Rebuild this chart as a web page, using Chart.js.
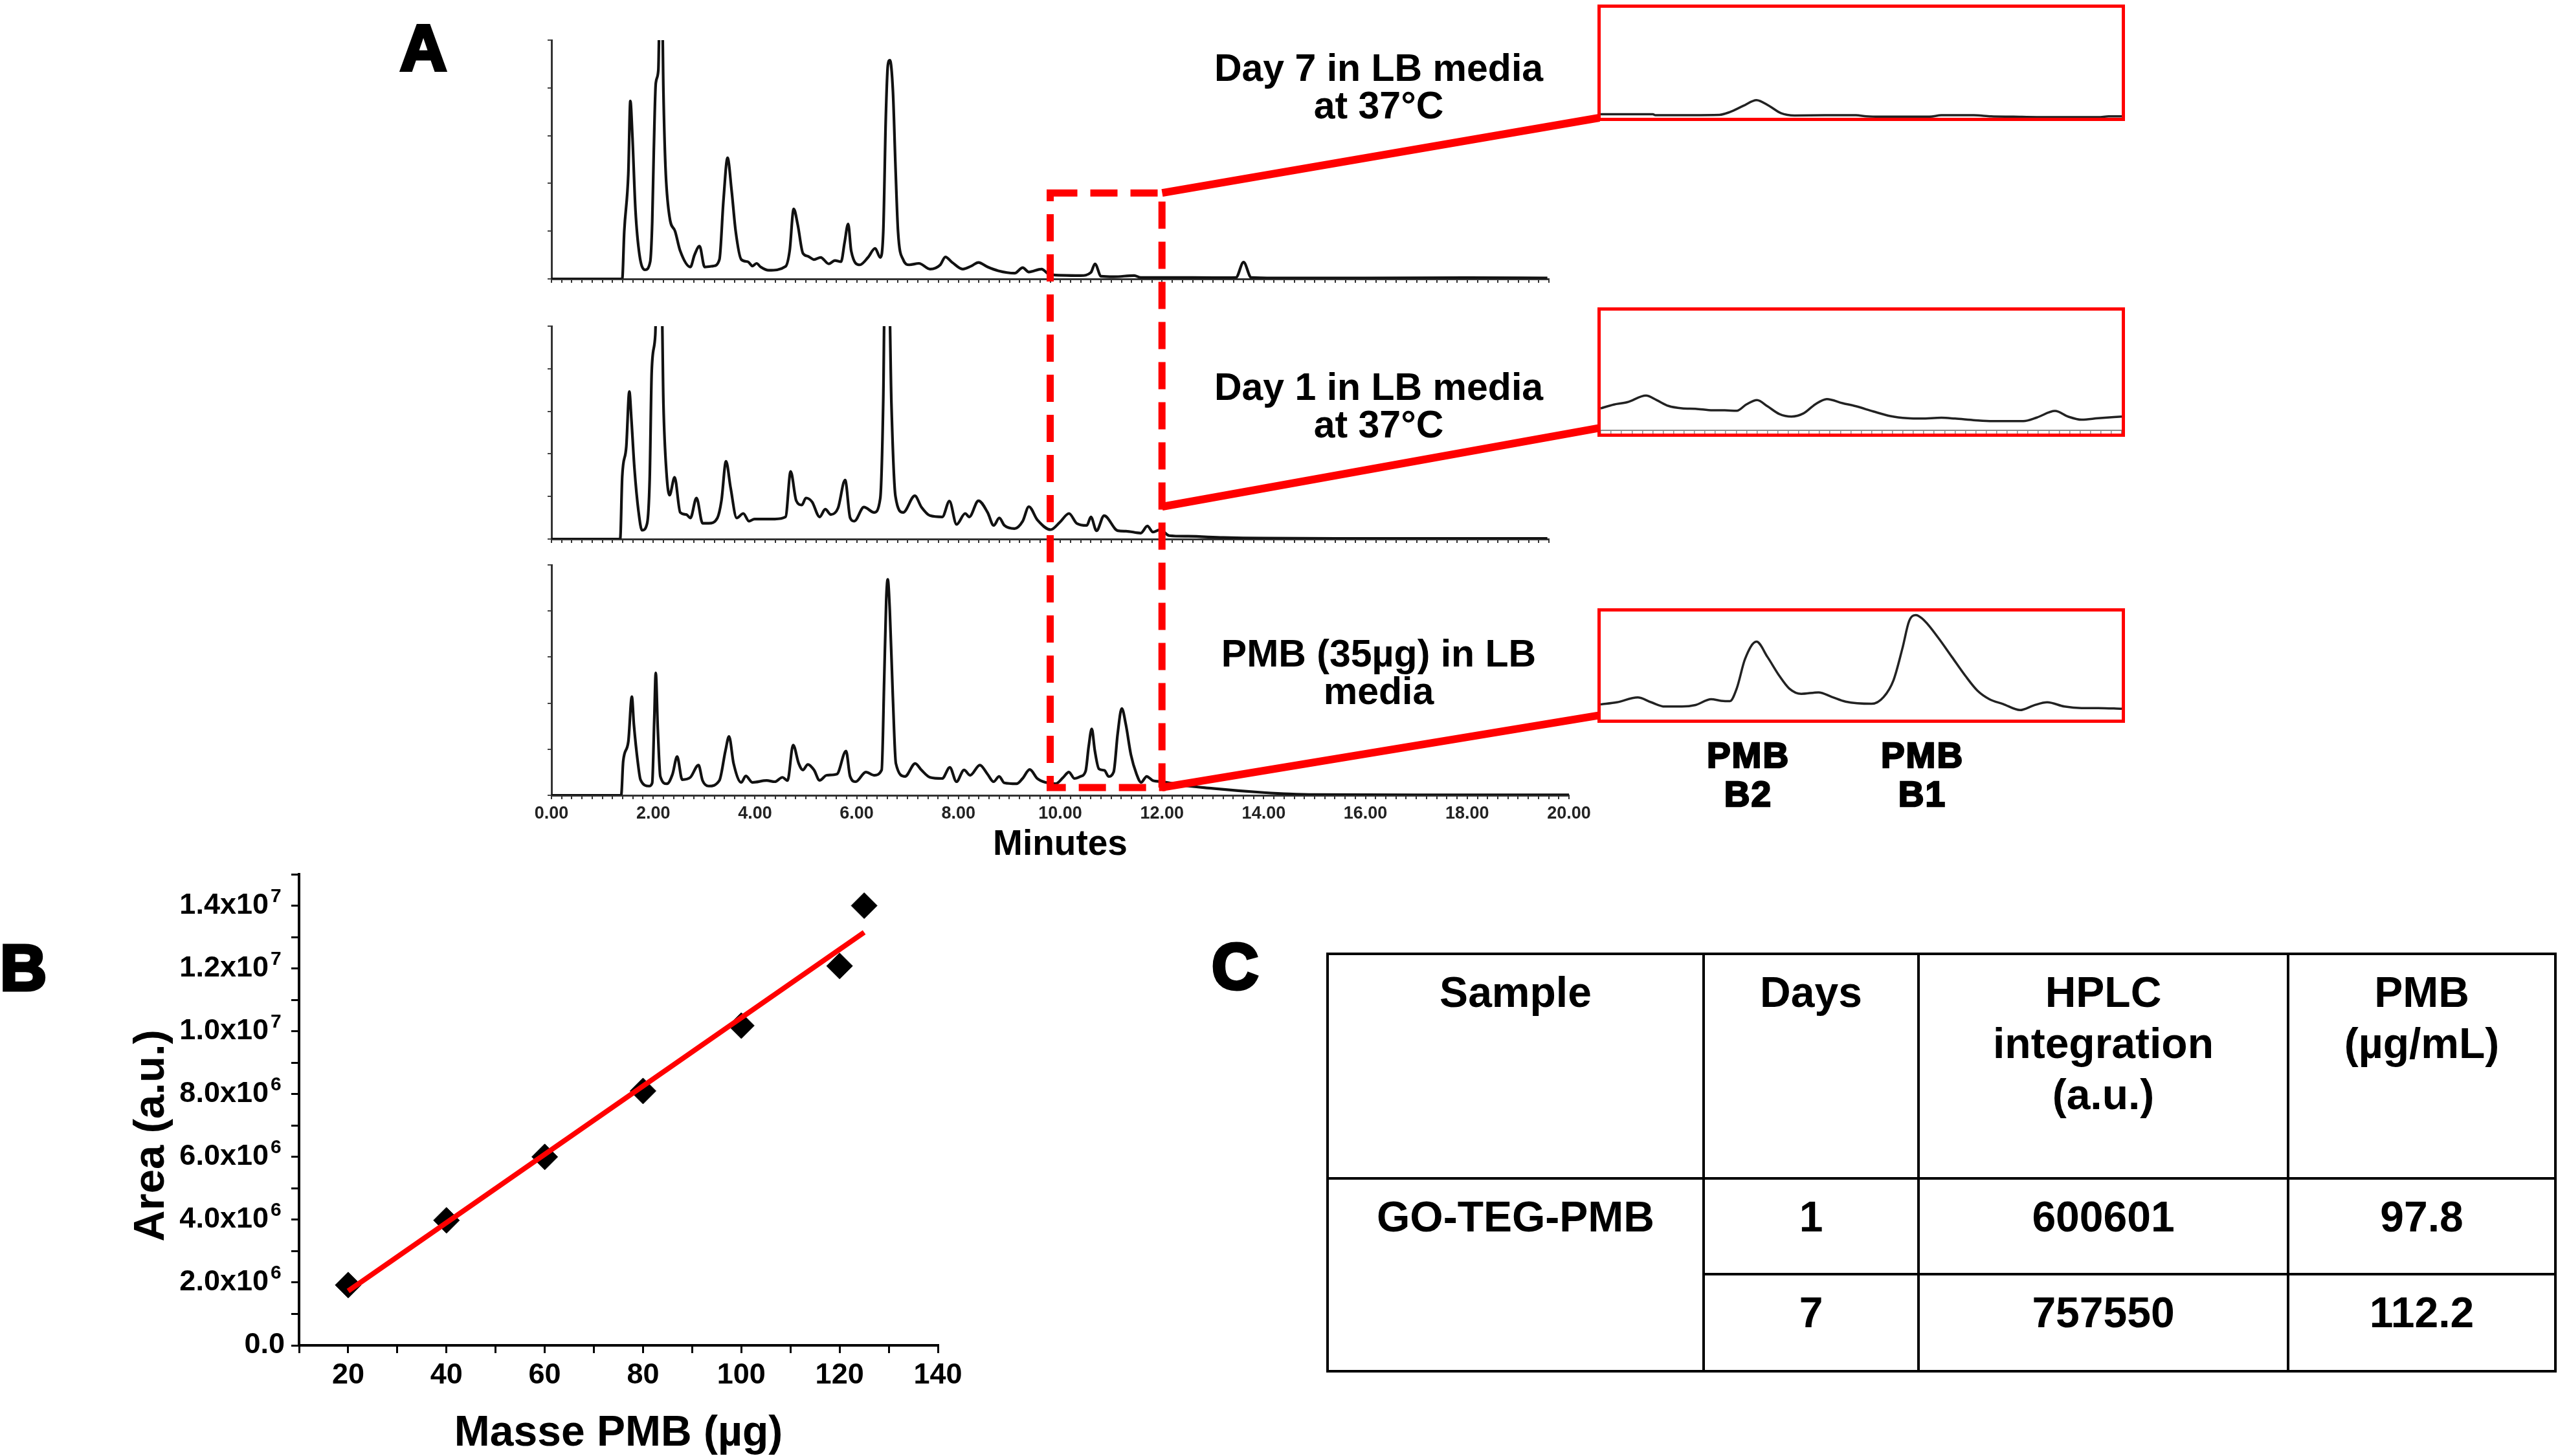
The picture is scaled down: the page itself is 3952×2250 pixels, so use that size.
<!DOCTYPE html>
<html>
<head>
<meta charset="utf-8">
<script src="https://cdn.jsdelivr.net/npm/chart.js@4.4.1/dist/chart.umd.min.js"></script>
<style>
html, body { margin: 0; padding: 0; background: #fff; }
body { width: 3952px; height: 2250px; position: relative; overflow: hidden;
       font-family: "Liberation Sans", Arial, sans-serif; color: #000; }
canvas { position: absolute; }
.abs { position: absolute; }
.panel { font-weight: bold; font-size: 100px; line-height: 1; -webkit-text-stroke: 5px #000; }
.lbl { font-weight: bold; font-size: 59px; line-height: 58px; text-align: center; width: 640px; }
.peak { font-weight: bold; font-size: 55px; line-height: 60px; text-align: center; width: 260px;
        letter-spacing: 2px; -webkit-text-stroke: 2.5px #000; }
.inset { position: absolute; border: 5px solid #f00; box-sizing: border-box; }
.inset canvas { position: static; display: block; }
#areaTitle { font-weight: bold; font-size: 67px; line-height: 70px; width: 600px; text-align: center;
             transform: rotate(-90deg); }
#tableC { position: absolute; left: 2049px; top: 1472px; border-collapse: collapse; }
#tableC td { border: 4px solid #000; font-weight: bold; font-size: 66px; line-height: 79px;
             text-align: center; vertical-align: top; padding: 18px 0 0 0; box-sizing: border-box; }
#overlay { position: absolute; left: 0; top: 0; pointer-events: none; }
</style>
</head>
<body>

<div class="abs panel" style="left:618px;top:24px;">A</div>
<div class="abs panel" style="left:0px;top:1445px;">B</div>
<div class="abs panel" style="left:1872px;top:1443px;">C</div>

<canvas id="day7" width="1617" height="387" style="left:816px;top:54px;"></canvas>
<canvas id="day1" width="1617" height="347" style="left:816px;top:496px;"></canvas>
<canvas id="pmb" width="1648" height="474" style="left:816px;top:865px;"></canvas>

<div class="abs lbl" style="left:1810px;top:76px;">Day 7 in LB media<br>at 37°C</div>
<div class="abs lbl" style="left:1810px;top:569px;">Day 1 in LB media<br>at 37°C</div>
<div class="abs lbl" style="left:1810px;top:981px;">PMB (35µg) in LB<br>media</div>

<div class="inset" id="insetBox7" style="left:2468px;top:7px;width:815px;height:180px;">
  <canvas id="inset7" width="805" height="170"></canvas></div>
<div class="inset" id="insetBox1" style="left:2468px;top:475px;width:815px;height:200px;">
  <canvas id="inset1" width="805" height="190"></canvas></div>
<div class="inset" id="insetBoxP" style="left:2468px;top:940px;width:815px;height:177px;">
  <canvas id="insetP" width="805" height="167"></canvas></div>

<div class="abs peak" style="left:2571px;top:1137px;">PMB<br>B2</div>
<div class="abs peak" style="left:2840px;top:1137px;">PMB<br>B1</div>

<canvas id="calib" width="1349" height="935" style="left:150px;top:1314px;"></canvas>
<div class="abs" id="areaTitle" style="left:-70px;top:1720px;">Area (a.u.)</div>

<table id="tableC"></table>

<canvas id="overlay" width="3952" height="2250"></canvas>

<script>
// ---- Panel A: chromatograms, [minutes, % of axis height] ----
const day7Trace = [[0,0],[1.39,0],[1.43,19.9],[1.51,44],[1.55,74.5],[1.59,60],[1.65,29],[1.73,10],[1.84,3.8],
  [1.94,7.2],[1.98,24],[2.01,53],[2.05,82],[2.10,87.5],[2.13,120],[2.17,120],[2.20,78.5],[2.24,47],[2.32,26],
  [2.43,19.9],[2.53,11.7],[2.73,5],[2.81,10],[2.91,13.7],[3.01,5],[3.18,5.4],[3.30,8.1],[3.38,33],[3.46,50.7],
  [3.54,37],[3.62,19.9],[3.73,8.1],[3.86,7.2],[3.95,5.4],[4.03,6.5],[4.11,5],[4.27,3.6],[4.60,5.2],[4.68,11.7],
  [4.76,29.3],[4.84,22.6],[4.94,10.8],[5.04,9.5],[5.16,8.1],[5.29,9],[5.45,6.3],[5.57,7.7],[5.69,7.2],[5.76,15.3],
  [5.83,23],[5.89,11.7],[6.06,5.9],[6.22,9],[6.36,12.8],[6.46,9],[6.52,19.9],[6.57,67.7],[6.61,89.4],[6.65,91.6],
  [6.71,78.5],[6.76,47],[6.81,19.9],[6.91,8.1],[7.03,5.9],[7.22,6.5],[7.44,4.1],[7.64,5.9],[7.74,9.2],[7.88,6.8],
  [8.08,4.1],[8.25,5.4],[8.39,6.9],[8.57,5],[8.78,3.4],[9.10,2.4],[9.26,4.7],[9.38,2.9],[9.63,4.1],[9.79,1.8],
  [10.40,1.4],[10.60,2.7],[10.68,6.3],[10.80,1.1],[11.05,0.9],[11.45,1.4],[11.58,0.6],[12.18,0.6],[13.0,0.5],
  [13.45,0.6],[13.6,7],[13.75,0.6],[14.2,0.4],[16.0,0.4],[18.0,0.5],[19.57,0.4]];

const day1Trace = [[0,0],[1.35,0],[1.39,29.2],[1.47,43.4],[1.53,69.3],[1.57,56.6],[1.63,33.3],[1.71,13],[1.78,4.1],
  [1.88,7.4],[1.93,28.2],[1.97,78.9],[2.04,96],[2.07,120],[2.16,120],[2.20,63.7],[2.26,31.2],[2.32,20.6],[2.42,29],
  [2.53,12.5],[2.65,11.5],[2.73,9.9],[2.85,19.3],[2.97,7.4],[3.09,7.4],[3.26,9.9],[3.34,18],[3.43,36.5],[3.52,24.1],
  [3.64,9.9],[3.77,12],[3.88,8.4],[3.99,9.4],[4.39,9.4],[4.60,10.4],[4.70,31.7],[4.81,18],[4.92,16],[5.00,19.3],
  [5.12,17.5],[5.27,10.4],[5.38,14],[5.49,11.5],[5.63,14.5],[5.77,27.7],[5.87,9.9],[5.95,8.4],[6.14,15],[6.34,12.5],
  [6.46,19],[6.52,65.7],[6.55,120],[6.63,120],[6.68,63.7],[6.76,20],[6.91,12.5],[7.14,20.3],[7.27,15],[7.44,11],
  [7.68,10.4],[7.82,17.8],[7.96,6.9],[8.13,12],[8.21,10.4],[8.39,18],[8.57,12.5],[8.69,6.4],[8.80,9.9],[8.90,6.4],
  [9.10,4.9],[9.26,8.4],[9.38,15.2],[9.55,8.9],[9.81,4.4],[9.99,7.9],[10.17,12],[10.32,7.4],[10.52,6.4],[10.60,10.4],
  [10.71,3.9],[10.86,11],[11.13,3.9],[11.29,3.7],[11.58,2.8],[11.71,6.1],[11.82,3.3],[11.96,4.4],[12.14,1.6],
  [12.51,1.3],[13.2,0.7],[14.0,0.4],[16.0,0.3],[18.0,0.3],[19.57,0.3]];

const pmbTrace = [[0,0],[1.37,0],[1.41,14.8],[1.51,23.2],[1.58,42.8],[1.62,30.7],[1.70,13.8],[1.75,6.8],[1.92,4],
  [1.98,5.4],[2.02,32.5],[2.05,53.1],[2.09,28.8],[2.14,8.2],[2.27,5],[2.38,9.2],[2.47,16.8],[2.57,6.8],[2.73,7.8],
  [2.89,13.1],[2.97,6.4],[3.09,4],[3.30,6.4],[3.42,19.4],[3.49,25.5],[3.58,13.8],[3.73,5.6],[3.82,8.4],[3.95,5.6],
  [4.23,6.4],[4.39,5.9],[4.54,7.8],[4.64,6.4],[4.75,21.8],[4.86,13.8],[4.94,11],[5.04,13.4],[5.16,11],[5.27,6.5],
  [5.41,8.7],[5.61,9.2],[5.79,19.2],[5.87,8.2],[5.98,5.9],[6.18,10.1],[6.34,8.7],[6.49,11],[6.54,50.3],[6.58,84.9],
  [6.61,93.7],[6.65,80.2],[6.71,42.8],[6.77,13.8],[6.95,8.2],[7.15,13.8],[7.27,11],[7.44,7.8],[7.68,7.3],[7.83,12.1],
  [7.96,5.9],[8.11,11],[8.23,8.7],[8.42,13.1],[8.57,9.2],[8.69,5.9],[8.80,8.2],[8.90,5.4],[9.14,5],[9.26,7.3],
  [9.40,11.2],[9.55,7.3],[9.71,5.6],[9.91,5],[10.06,7.8],[10.17,10.1],[10.28,7.3],[10.40,8.2],[10.50,10.6],
  [10.56,21.3],[10.62,28.8],[10.68,19.4],[10.76,11.5],[10.87,10.8],[10.95,8.2],[11.05,10.1],[11.13,26.9],
  [11.21,37.7],[11.29,30.7],[11.39,17.6],[11.50,9.2],[11.59,5.6],[11.70,8.2],[11.82,6.4],[12.02,5.9],[12.35,4.5],
  [13.0,3],[13.5,2],[14.0,1.2],[14.5,0.6],[15.0,0.3],[17.0,0.2],[20.0,0.2]];

const minuteTicks = [0, 2, 4, 6, 8, 10, 12, 14, 16, 18, 20];

// zoomed windows, [% across window, % of window height]
const inset7Trace = [[0,3.3],[10,3.3],[10.5,2.3],[22.8,2.7],[24.8,5.2],[27.4,10.9],[29.9,16.1],[32.3,10.9],[34.6,4.2],
  [37.2,2.1],[43.1,2.3],[49,2.3],[51,1.3],[53.9,1],[63.1,1],[65.4,2.3],[71.6,2.3],[74.9,1.3],[79.2,1],[83.7,0.6],
  [95.5,0.6],[97.5,1.3],[100,1.3]];
const inset1Trace = [[0,18.4],[2.5,21.5],[5.1,23.5],[8.7,29],[10.7,25.3],[13,20.4],[15.6,18.4],[18.2,18],[21.5,16.7],
  [23.8,16.7],[26.1,16.3],[28,21.8],[30,25.3],[32,20.1],[34.3,13.6],[36.6,11.5],[38.9,14.1],[41.2,21.8],[43.4,26.1],
  [46.4,22.7],[49,20.1],[52.3,15.8],[55.6,11.9],[58.9,10.1],[61.5,9.8],[65.4,10.5],[68,9.8],[71.9,8.4],[75.2,7.7],
  [81.1,7.7],[83.7,10.7],[87.2,16.2],[89.7,11.5],[92.3,8.9],[95.5,10.1],[100,11.5]];
const insetPTrace = [[0,14.1],[3.1,16],[7.1,20.5],[9.7,16],[12.3,12.1],[15.6,12.1],[18.2,13.5],[21.2,18.9],[23.1,17.4],
  [24.8,17],[26.1,28.7],[27.7,56],[29.9,72.1],[32,58],[34.3,40.4],[36.2,28.7],[38.5,23.8],[41.8,25.2],[44.4,20.9],
  [47,16.6],[52,14.6],[54.3,20.9],[56.2,36.5],[57.9,65.8],[59.2,91.2],[60.5,96.7],[62.2,91.2],[64.8,75.6],[67.4,58],
  [70,40.4],[72.3,26.8],[74.6,18.9],[77.2,14.5],[80.5,8.8],[83.1,13.1],[85.7,16],[89,12.1],[92.3,10.7],[95.5,10.7],
  [100,10]];

// red zoom annotation (minutes and % levels)
const zoomWindow = [9.8, 12.0];
const boxTopLevel = 36;      // on Day 7 axis
const boxBottomLevel = 3.4;  // on PMB axis
const linkFrom = [36, 15.2, 3.4];
const linkTo = [0, 2, 4];

// ---- Panel B: calibration ----
const massPMB = [20, 40, 60, 80, 100, 120, 125];
const areaPMB = [1.92e6, 3.98e6, 6.0e6, 8.1e6, 10.18e6, 12.08e6, 14.0e6];
const fitMass = [20, 125];
const fitArea = [1.73e6, 13.15e6];
const massTicks = [20, 40, 60, 80, 100, 120, 140];
const areaTicks = [0, 2e6, 4e6, 6e6, 8e6, 1e7, 1.2e7, 1.4e7];
const areaTickText = ['0.0', '2.0x10', '4.0x10', '6.0x10', '8.0x10', '1.0x10', '1.2x10', '1.4x10'];
const areaTickExp = ['', '6', '6', '6', '6', '7', '7', '7'];

// ---- Panel C: table ----
const tableHeaders = ['Sample', 'Days', 'HPLC<br>integration<br>(a.u.)', 'PMB<br>(µg/mL)'];
const tableSample = 'GO-TEG-PMB';
const tableDays = ['1', '7'];
const tableHPLC = ['600601', '757550'];
const tablePMB = ['97.8', '112.2'];

const FONT = '"Liberation Sans", Arial, sans-serif';
Chart.defaults.font.family = FONT;
Chart.defaults.color = '#000';

function toPoints(trace) {
  return trace.map(p => ({ x: p[0], y: p[1] }));
}

function traceChart(id, trace, xMax, showLabels) {
  return new Chart(document.getElementById(id), {
    type: 'line',
    data: {
      datasets: [{
        data: toPoints(trace),
        borderColor: '#111',
        borderWidth: 4.2,
        pointRadius: 0,
        cubicInterpolationMode: 'monotone',
        fill: false
      }]
    },
    options: {
      responsive: false,
      animation: false,
      devicePixelRatio: 1,
      layout: { padding: { left: 30, right: 40, top: 8, bottom: 0 } },
      plugins: { legend: { display: false }, tooltip: { enabled: false } },
      scales: {
        x: {
          type: 'linear', min: 0, max: xMax,
          afterFit: (s) => { s.height = showLabels ? 110 : 10; },
          border: { display: true, color: '#333', width: 3 },
          grid: { drawOnChartArea: false, tickLength: 6, color: '#333', lineWidth: 2 },
          ticks: {
            display: showLabels, stepSize: 0.2, maxTicksLimit: 200, autoSkip: false, maxRotation: 0,
            padding: 6, color: '#222', font: { size: 27, weight: 'bold' },
            callback: (v) => {
              const r = Math.round(v * 100) / 100;
              return minuteTicks.includes(r) ? r.toFixed(2) : '';
            }
          },
          title: { display: showLabels, text: 'Minutes', color: '#000', padding: 0,
                   font: { size: 55, weight: 'bold', lineHeight: 1.2 } }
        },
        y: {
          min: 0, max: 100,
          afterFit: (s) => { s.width = 6; },
          ticks: { display: false, stepSize: 20 },
          grid: { drawOnChartArea: false, tickLength: 6, color: '#444', lineWidth: 2 },
          border: { display: true, color: '#333', width: 3 }
        }
      }
    }
  });
}

function insetChart(id, trace, showAxis) {
  return new Chart(document.getElementById(id), {
    type: 'line',
    data: {
      datasets: [{
        data: toPoints(trace),
        borderColor: '#222',
        borderWidth: 3.5,
        pointRadius: 0,
        cubicInterpolationMode: 'monotone',
        fill: false
      }]
    },
    options: {
      responsive: false,
      animation: false,
      devicePixelRatio: 1,
      layout: { padding: 0 },
      plugins: { legend: { display: false }, tooltip: { enabled: false } },
      scales: {
        x: {
          type: 'linear', min: 0, max: 100, display: showAxis,
          border: { display: true, color: '#8a8a8a', width: 2 },
          grid: { drawOnChartArea: false, tickLength: 5, color: '#8a8a8a', lineWidth: 1.5 },
          ticks: { display: false, stepSize: 2, maxTicksLimit: 100 }
        },
        y: { min: 0, max: 100, display: false }
      }
    }
  });
}

const day7Chart = traceChart('day7', day7Trace, 19.6, false);
const day1Chart = traceChart('day1', day1Trace, 19.6, false);
const pmbChart = traceChart('pmb', pmbTrace, 20, true);

const inset7 = insetChart('inset7', inset7Trace, false);
const inset1 = insetChart('inset1', inset1Trace, true);
const insetP = insetChart('insetP', insetPTrace, false);

// ---- Panel B chart ----
const Y_TICK_LEN = 12, Y_TICK_PAD = 10;
const exponentPlugin = {
  id: 'exponents',
  afterDraw(chart) {
    const s = chart.scales.y;
    const ctx = chart.ctx;
    const right = s.right - Y_TICK_LEN - Y_TICK_PAD;
    ctx.save();
    ctx.font = 'bold 30px ' + FONT;
    ctx.fillStyle = '#000';
    ctx.textAlign = 'left';
    ctx.textBaseline = 'alphabetic';
    areaTicks.forEach((v, i) => {
      if (!areaTickExp[i]) return;
      ctx.fillText(areaTickExp[i], right - 22, s.getPixelForValue(v) - 6);
    });
    ctx.restore();
  }
};

new Chart(document.getElementById('calib'), {
  type: 'scatter',
  data: {
    datasets: [{
      data: fitMass.map((m, i) => ({ x: m, y: fitArea[i] })),
      showLine: true,
      borderColor: '#ff0000',
      borderWidth: 8,
      pointRadius: 0
    }, {
      data: massPMB.map((m, i) => ({ x: m, y: areaPMB[i] })),
      pointStyle: 'rectRot',
      pointRadius: 20,
      backgroundColor: '#000',
      borderColor: '#000',
      borderWidth: 1
    }]
  },
  options: {
    responsive: false,
    animation: false,
    devicePixelRatio: 1,
    layout: { padding: { left: 0, right: 50, top: 30, bottom: 0 } },
    plugins: { legend: { display: false }, tooltip: { enabled: false } },
    scales: {
      x: {
        type: 'linear', min: 10, max: 140,
        afterFit: (s) => { s.height = 170; },
        border: { display: true, color: '#000', width: 4 },
        grid: { drawOnChartArea: false, tickLength: 12, color: '#000', lineWidth: 3 },
        ticks: {
          stepSize: 10, maxTicksLimit: 50, autoSkip: false, maxRotation: 0, padding: 8,
          font: { size: 45, weight: 'bold' },
          callback: (v) => massTicks.includes(v) ? String(v) : ''
        },
        title: { display: true, text: 'Masse PMB (µg)', padding: 0,
                 font: { size: 66, weight: 'bold', lineHeight: 1 } }
      },
      y: {
        min: 0, max: 1.5e7,
        afterFit: (s) => { s.width = 312; },
        border: { display: true, color: '#000', width: 4 },
        grid: { drawOnChartArea: false, tickLength: Y_TICK_LEN, color: '#000', lineWidth: 3 },
        ticks: {
          stepSize: 1e6, maxTicksLimit: 50, autoSkip: false, padding: Y_TICK_PAD,
          font: { size: 45, weight: 'bold' },
          callback: (v) => {
            const i = areaTicks.indexOf(Math.round(v));
            if (i < 0) return '';
            return areaTickExp[i] ? areaTickText[i] + '  ' : areaTickText[i];
          }
        }
      }
    }
  },
  plugins: [exponentPlugin]
});

// ---- Panel C table ----
const table = document.getElementById('tableC');
const colWidths = [581, 332, 571, 413];
let html = '<tr style="height:347px">' + tableHeaders.map((h, i) =>
  '<td style="width:' + colWidths[i] + 'px">' + h + '</td>').join('') + '</tr>';
tableDays.forEach((d, i) => {
  html += '<tr style="height:' + (i === 0 ? 148 : 150) + 'px">';
  if (i === 0) html += '<td rowspan="2">' + tableSample + '</td>';
  html += '<td>' + d + '</td><td>' + tableHPLC[i] + '</td><td>' + tablePMB[i] + '</td></tr>';
});
table.innerHTML = html;

// ---- red zoom box and connectors, placed through the charts' own scales ----
function pagePt(chart, xv, yv) {
  const r = chart.canvas.getBoundingClientRect();
  return { x: r.left + chart.scales.x.getPixelForValue(xv), y: r.top + chart.scales.y.getPixelForValue(yv) };
}
const ov = document.getElementById('overlay').getContext('2d');
ov.strokeStyle = '#ff0000';
ov.lineWidth = 11;
ov.setLineDash([42, 20]);
const tl = pagePt(day7Chart, zoomWindow[0], boxTopLevel);
const br = pagePt(pmbChart, zoomWindow[1], boxBottomLevel);
ov.strokeRect(tl.x, tl.y, br.x - tl.x, br.y - tl.y);

ov.setLineDash([]);
ov.lineWidth = 12;
const mains = [day7Chart, day1Chart, pmbChart];
const insets = [inset7, inset1, insetP];
const boxes = ['insetBox7', 'insetBox1', 'insetBoxP'];
mains.forEach((ch, i) => {
  const from = pagePt(ch, zoomWindow[1], linkFrom[i]);
  const left = document.getElementById(boxes[i]).getBoundingClientRect().left;
  const to = pagePt(insets[i], 0, linkTo[i]);
  ov.beginPath();
  ov.moveTo(from.x, from.y);
  ov.lineTo(left + 3, to.y);
  ov.stroke();
});
</script>
</body>
</html>
